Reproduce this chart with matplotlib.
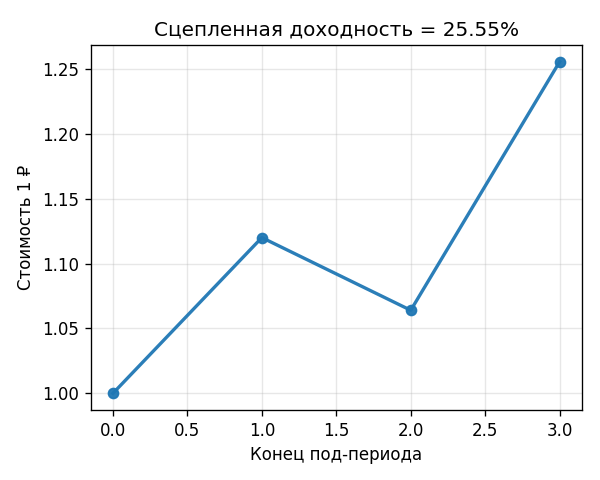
import matplotlib
matplotlib.use("Agg")
import matplotlib.pyplot as plt

periods = [0, 1, 2, 3]
values = [1.0, 1.12, 1.064, 1.25552]
title = "Сцепленная доходность = 25.55%"
xlabel = "Конец под-периода"
ylabel = "Стоимость 1 ₽"

fig, ax = plt.subplots(figsize=(5, 4), dpi=120)
ax.plot(periods, values, marker="o", linewidth=2, markersize=6, color="#1f77b4", alpha=0.95)
ax.set_title(title)
ax.set_xlabel(xlabel)
ax.set_ylabel(ylabel)
ax.grid(True, alpha=0.3)
fig.subplots_adjust(left=0.151, right=0.97, top=0.906, bottom=0.146)
fig.savefig("out.png", dpi=120)
